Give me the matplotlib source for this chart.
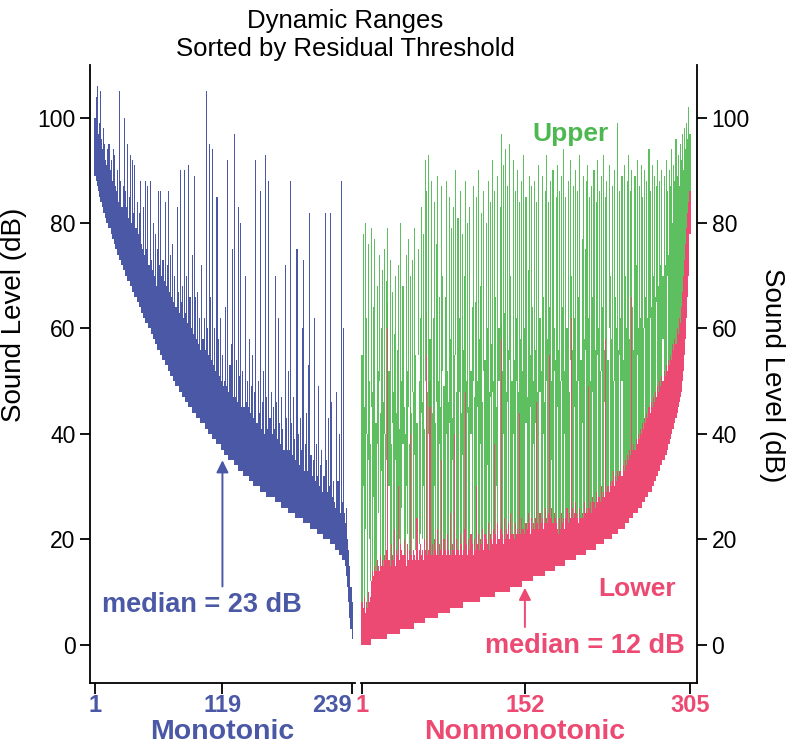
import numpy as np
import matplotlib.pyplot as plt

plt.rcParams['font.family'] = ['Liberation Sans', 'DejaVu Sans']

BLUE = '#4a58a6'
RED = '#ec4a72'
GREEN = '#4cb84f'

# monotonic units: residual threshold and upper end of dynamic range (dB)
mono_lo = [
    89, 88, 87, 86, 85, 84, 84, 83, 82, 82, 81, 80, 80, 79, 79, 78, 77, 77, 76, 75,
    75, 74, 74, 73, 73, 72, 71, 71, 70, 70, 69, 69, 69, 68, 68, 67, 67, 66, 66, 65,
    65, 64, 64, 63, 63, 62, 62, 61, 61, 61, 60, 60, 59, 59, 58, 58, 57, 57, 56, 56,
    56, 55, 55, 54, 54, 53, 53, 53, 52, 52, 51, 51, 51, 50, 50, 49, 49, 49, 48, 48,
    48, 47, 47, 47, 46, 46, 46, 45, 45, 45, 44, 44, 44, 44, 43, 43, 43, 43, 42, 42,
    42, 42, 41, 41, 41, 40, 40, 40, 40, 39, 39, 39, 39, 38, 38, 38, 38, 37, 37, 37,
    36, 36, 36, 36, 35, 35, 35, 35, 35, 34, 34, 34, 34, 33, 33, 33, 33, 33, 32, 32,
    32, 32, 32, 31, 31, 31, 31, 30, 30, 30, 30, 30, 30, 29, 29, 29, 29, 29, 29, 28,
    28, 28, 28, 28, 28, 28, 28, 27, 27, 27, 27, 27, 27, 26, 26, 26, 26, 26, 26, 25,
    25, 25, 25, 25, 25, 25, 24, 24, 24, 24, 24, 24, 24, 23, 23, 23, 23, 23, 23, 23,
    22, 22, 22, 22, 22, 22, 21, 21, 21, 21, 21, 21, 20, 20, 20, 20, 20, 20, 19, 19,
    19, 19, 19, 18, 18, 18, 17, 17, 17, 16, 16, 16, 15, 13, 11, 8, 5, 3, 1]
mono_hi = [
    100, 104, 106, 97, 99, 105, 96, 94, 98, 95, 92, 91, 94, 95, 90, 92, 88, 94, 93, 87,
    86, 90, 84, 105, 88, 83, 87, 100, 86, 83, 95, 81, 85, 93, 80, 92, 82, 91, 79, 84,
    78, 82, 88, 76, 75, 83, 74, 88, 75, 87, 72, 88, 73, 71, 80, 70, 78, 68, 75, 86,
    72, 86, 70, 73, 69, 84, 68, 72, 86, 67, 74, 66, 76, 65, 70, 64, 83, 67, 63, 90,
    65, 68, 62, 90, 63, 70, 61, 91, 66, 60, 74, 59, 89, 66, 58, 67, 57, 62, 56, 72,
    58, 62, 56, 105, 60, 55, 95, 66, 54, 94, 53, 60, 52, 85, 58, 51, 62, 50, 55, 49,
    50, 64, 49, 92, 48, 53, 57, 75, 47, 97, 47, 54, 46, 83, 51, 80, 45, 52, 45, 70,
    46, 50, 45, 58, 44, 49, 55, 43, 48, 92, 42, 50, 44, 86, 41, 46, 52, 40, 93, 47,
    41, 88, 43, 48, 40, 45, 41, 70, 46, 39, 62, 42, 38, 47, 41, 37, 72, 43, 37, 52,
    37, 88, 42, 36, 47, 39, 35, 75, 40, 34, 43, 37, 60, 73, 33, 38, 44, 33, 53, 82,
    36, 32, 35, 62, 31, 38, 32, 49, 30, 34, 37, 29, 32, 82, 35, 29, 43, 30, 82, 46,
    28, 31, 27, 26, 48, 31, 40, 25, 88, 27, 60, 25, 23, 26, 20, 18, 15, 11, 8]

# nonmonotonic units: threshold, top of lower range, bottom and top of upper range (dB)
non_lo = [
    0, 0, 0, 0, 0, 0, 0, 0, 0, 1, 1, 1, 1, 1, 1, 1, 1, 1, 1, 1,
    1, 1, 1, 1, 2, 2, 2, 2, 2, 2, 2, 2, 2, 2, 2, 2, 3, 3, 3, 3,
    3, 3, 3, 3, 3, 3, 3, 3, 3, 4, 4, 4, 4, 4, 4, 4, 4, 4, 4, 5,
    5, 5, 5, 5, 5, 5, 5, 5, 5, 5, 5, 6, 6, 6, 6, 6, 6, 6, 6, 6,
    6, 6, 7, 7, 7, 7, 7, 7, 7, 7, 7, 7, 7, 7, 8, 8, 8, 8, 8, 8,
    8, 8, 8, 8, 8, 8, 8, 8, 8, 8, 9, 9, 9, 9, 9, 9, 9, 9, 9, 9,
    9, 9, 9, 9, 10, 10, 10, 10, 10, 10, 10, 10, 10, 10, 10, 10, 10, 10, 11, 11,
    11, 11, 11, 11, 11, 11, 11, 11, 11, 12, 12, 12, 12, 12, 12, 12, 12, 12, 12, 13,
    13, 13, 13, 13, 13, 13, 13, 13, 13, 13, 14, 14, 14, 14, 14, 14, 14, 14, 14, 15,
    15, 15, 15, 15, 15, 15, 15, 15, 15, 16, 16, 16, 16, 16, 16, 16, 16, 16, 16, 17,
    17, 17, 17, 17, 17, 17, 17, 17, 18, 18, 18, 18, 18, 18, 18, 18, 18, 19, 19, 19,
    19, 19, 19, 19, 19, 20, 20, 20, 20, 20, 20, 20, 21, 21, 21, 21, 21, 21, 22, 22,
    22, 22, 22, 22, 23, 23, 23, 23, 24, 24, 24, 24, 25, 25, 25, 25, 26, 26, 26, 26,
    27, 27, 27, 28, 28, 28, 29, 29, 29, 30, 30, 31, 31, 32, 32, 33, 33, 34, 34, 35,
    35, 36, 36, 37, 38, 38, 39, 40, 41, 41, 42, 43, 44, 45, 46, 47, 48, 50, 52, 55,
    58, 62, 66, 70, 78]
non_red = [
    8, 7, 9, 6, 8, 7, 10, 8, 9, 12, 14, 13, 15, 14, 16, 15, 14, 17, 15, 16,
    15, 17, 16, 18, 65, 16, 15, 19, 17, 16, 22, 15, 18, 17, 30, 16, 19, 18, 17, 20,
    17, 15, 19, 16, 18, 45, 17, 16, 18, 17, 16, 24, 16, 18, 19, 17, 18, 16, 20, 18,
    63, 17, 18, 50, 17, 19, 17, 20, 18, 17, 22, 17, 19, 18, 35, 17, 20, 18, 17, 21,
    18, 17, 25, 17, 19, 18, 40, 17, 20, 18, 17, 21, 19, 17, 18, 22, 48, 19, 17, 20,
    18, 21, 19, 17, 20, 18, 30, 19, 21, 18, 20, 19, 22, 18, 21, 20, 19, 23, 18, 21,
    20, 19, 22, 38, 21, 19, 23, 20, 22, 61, 21, 19, 24, 20, 22, 21, 23, 20, 25, 21,
    21, 20, 23, 21, 22, 21, 44, 21, 24, 22, 22, 21, 23, 22, 25, 23, 21, 24, 22, 23,
    22, 24, 46, 23, 22, 25, 23, 24, 22, 23, 26, 24, 23, 25, 55, 24, 26, 23, 25, 24,
    23, 22, 21, 24, 22, 25, 23, 24, 22, 24, 26, 23, 25, 24, 62, 26, 24, 25, 27, 25,
    24, 23, 26, 24, 25, 24, 27, 25, 26, 25, 49, 26, 27, 25, 28, 27, 26, 29, 27, 28,
    28, 27, 30, 28, 29, 28, 58, 29, 30, 29, 31, 30, 31, 33, 30, 32, 31, 33, 32, 33,
    33, 32, 34, 33, 35, 34, 36, 35, 37, 36, 66, 37, 38, 37, 39, 38, 40, 39, 41, 40,
    42, 41, 43, 42, 44, 43, 45, 44, 46, 45, 47, 46, 48, 47, 49, 48, 50, 49, 51, 50,
    52, 51, 53, 52, 54, 53, 55, 54, 57, 56, 58, 57, 60, 59, 62, 61, 64, 67, 70, 73,
    76, 79, 82, 84, 86]
non_glo = [
    8, 30, 9, 22, 40, 7, 35, 20, 12, 45, 14, 28, 15, 14, 38, 25, 50, 17, 33, 16,
    15, 40, 16, 35, 60, 30, 15, 19, 42, 16, 22, 35, 18, 17, 30, 20, 19, 26, 38, 20,
    17, 30, 21, 45, 18, 40, 17, 48, 20, 36, 18, 24, 55, 19, 21, 44, 20, 30, 20, 50,
    55, 17, 40, 45, 17, 19, 17, 30, 18, 46, 22, 17, 38, 18, 35, 52, 20, 18, 40, 21,
    18, 42, 25, 17, 35, 18, 40, 55, 20, 18, 48, 21, 19, 36, 18, 22, 48, 19, 44, 20,
    18, 40, 19, 50, 20, 18, 30, 45, 21, 18, 38, 19, 22, 52, 21, 20, 34, 23, 18, 47,
    20, 48, 22, 38, 21, 30, 23, 50, 22, 58, 21, 40, 24, 20, 22, 46, 23, 54, 25, 21,
    40, 20, 23, 50, 22, 21, 44, 21, 24, 22, 22, 21, 42, 22, 25, 23, 45, 24, 22, 38,
    22, 42, 46, 23, 22, 48, 23, 24, 40, 23, 26, 50, 23, 25, 55, 24, 35, 23, 52, 24,
    23, 45, 21, 24, 22, 50, 23, 24, 40, 24, 26, 23, 25, 54, 62, 26, 24, 45, 27, 25,
    24, 50, 26, 24, 42, 24, 27, 56, 26, 25, 49, 26, 27, 25, 48, 27, 26, 29, 55, 28,
    28, 27, 52, 28, 29, 46, 58, 29, 30, 60, 31, 30, 31, 33, 50, 32, 31, 33, 32, 55,
    33, 50, 34, 33, 35, 34, 36, 35, 37, 36, 66, 37, 38, 37, 39, 55, 40, 39, 41, 40,
    42, 41, 60, 42, 44, 43, 45, 62, 46, 45, 47, 46, 48, 65, 49, 48, 50, 49, 51, 58,
    52, 51, 53, 70, 54, 53, 55, 54, 57, 56, 58, 57, 60, 59, 62, 61, 64, 67, 70, 73,
    76, 79, 82, 84, 86]
non_hi = [
    55, 78, 45, 80, 62, 40, 76, 50, 38, 79, 48, 64, 77, 42, 68, 52, 74, 44, 60, 71,
    46, 75, 40, 69, 79, 52, 73, 38, 67, 48, 59, 70, 44, 56, 72, 41, 80, 50, 68, 45,
    40, 74, 52, 77, 38, 70, 44, 73, 48, 79, 55, 42, 75, 50, 62, 83, 46, 78, 41, 92,
    86, 48, 93, 58, 88, 44, 62, 84, 42, 76, 89, 50, 66, 45, 87, 70, 49, 66, 88, 52,
    46, 85, 58, 79, 43, 83, 55, 90, 48, 81, 62, 86, 44, 78, 56, 70, 88, 50, 80, 45,
    83, 52, 64, 87, 47, 65, 85, 50, 90, 58, 68, 82, 46, 86, 54, 80, 60, 88, 48, 84,
    57, 92, 50, 86, 66, 45, 89, 60, 83, 97, 52, 91, 63, 94, 48, 87, 56, 95, 70, 50,
    92, 54, 86, 62, 90, 48, 84, 58, 88, 52, 93, 60, 85, 47, 71, 89, 55, 87, 64, 50,
    88, 56, 84, 48, 91, 62, 52, 89, 66, 46, 86, 93, 58, 84, 64, 88, 50, 90, 60, 54,
    85, 91, 56, 86, 50, 89, 64, 94, 52, 85, 60, 88, 48, 92, 70, 56, 87, 62, 90, 50,
    86, 66, 93, 54, 77, 89, 58, 75, 88, 91, 62, 85, 50, 87, 66, 90, 56, 84, 92, 60,
    86, 52, 89, 64, 93, 56, 85, 88, 54, 91, 70, 58, 87, 50, 90, 66, 60, 99, 56, 86,
    62, 89, 54, 91, 70, 60, 88, 93, 58, 86, 90, 64, 56, 89, 72, 92, 60, 87, 62, 91,
    85, 60, 90, 66, 88, 62, 94, 86, 64, 91, 70, 89, 66, 87, 92, 68, 88, 72, 90, 70,
    89, 72, 92, 86, 74, 90, 87, 94, 80, 91, 88, 96, 89, 93, 87, 95, 92, 97, 90, 98,
    94, 99, 96, 102, 97]

mono_ticks = [1, 119, 239]
non_ticks = [1, 152, 305]

mono_lo = np.array(mono_lo)
mono_hi = np.array(mono_hi)
non_lo = np.array(non_lo)
non_red = np.array(non_red)
non_glo = np.array(non_glo)
non_hi = np.array(non_hi)
mono_x = np.arange(1, len(mono_lo) + 1)
non_x = np.arange(1, len(non_lo) + 1)

fig = plt.figure(figsize=(8, 7.44), dpi=100)
ax1 = fig.add_axes([0.1125, 0.082, 0.335, 0.8306])
ax2 = fig.add_axes([0.4475, 0.082, 0.42375, 0.8306])

ax1.bar(mono_x, mono_hi - mono_lo, bottom=mono_lo, width=1.0, color=BLUE, linewidth=0)
ax2.bar(non_x, non_red - non_lo, bottom=non_lo, width=1.0, color=RED, linewidth=0)
ax2.bar(non_x, non_hi - non_glo, bottom=non_glo, width=1.0, color=GREEN, alpha=0.9, linewidth=0)

for ax in (ax1, ax2):
    ax.set_ylim(-7.3, 110)
    ax.set_yticks(range(0, 101, 20))
    ax.spines['top'].set_visible(False)
    for s in ax.spines.values():
        s.set_linewidth(1.3)
    ax.tick_params(axis='y', labelsize=16.5, length=7, width=1.3)
    ax.tick_params(axis='x', length=8, width=1.3, pad=0)
    ax.set_facecolor('none')

ax1.set_xlim(-3.6, 244.5)
ax1.spines['right'].set_visible(False)
ax1.spines['bottom'].set_bounds(-3.6, 242)
ax1.set_xticks(mono_ticks)
ax1.set_xticklabels([str(t) for t in mono_ticks], color=BLUE, fontsize=17, fontweight='bold')
ax1.get_xticklabels()[-1].set_horizontalalignment('right')
ax1.get_xticklabels()[-1].set_x(240.5)
ax1.set_ylabel('Sound Level (dB)', fontsize=20)
ax1.yaxis.set_label_coords(-0.236, 0.595)

ax2.set_xlim(-2.7, 311.5)
ax2.spines['left'].set_visible(False)
ax2.spines['bottom'].set_bounds(0.5, 311.5)
ax2.yaxis.tick_right()
ax2.yaxis.set_label_position('right')
ax2.set_xticks(non_ticks)
ax2.set_xticklabels([str(t) for t in non_ticks], color=RED, fontsize=17, fontweight='bold')
ax2.set_ylabel('Sound Level (dB)', fontsize=20, rotation=270)
ax2.yaxis.set_label_coords(1.26, 0.498)

# medians
ax1.annotate('', xy=(119, 35.5), xytext=(119, 10.5),
             arrowprops=dict(arrowstyle='-|>', color=BLUE, lw=1.4, mutation_scale=18))
ax1.text(100, 7.5, 'median = 23 dB', color=BLUE, fontsize=19.5, fontweight='bold',
         ha='center', va='center')
ax2.annotate('', xy=(152, 11.3), xytext=(152, 2.8),
             arrowprops=dict(arrowstyle='-|>', color=RED, lw=1.4, mutation_scale=18))
ax2.text(208, -0.3, 'median = 12 dB', color=RED, fontsize=19.5, fontweight='bold',
         ha='center', va='center')

ax2.text(194, 97, 'Upper', color=GREEN, fontsize=19, fontweight='bold', ha='center', va='center')
ax2.text(256, 10.5, 'Lower', color=RED, fontsize=19, fontweight='bold', ha='center', va='center')

ax1.text(119, -0.08, 'Monotonic', transform=ax1.get_xaxis_transform(), color=BLUE,
         fontsize=20.5, fontweight='bold', ha='center', va='center')
ax2.text(152, -0.08, 'Nonmonotonic', transform=ax2.get_xaxis_transform(), color=RED,
         fontsize=20.5, fontweight='bold', ha='center', va='center')

fig.text(345 / 800, 1 - 35 / 744, 'Dynamic Ranges\nSorted by Residual Threshold',
         ha='center', va='center', fontsize=18.5, linespacing=1.2)

fig.savefig('out.png', dpi=100)
